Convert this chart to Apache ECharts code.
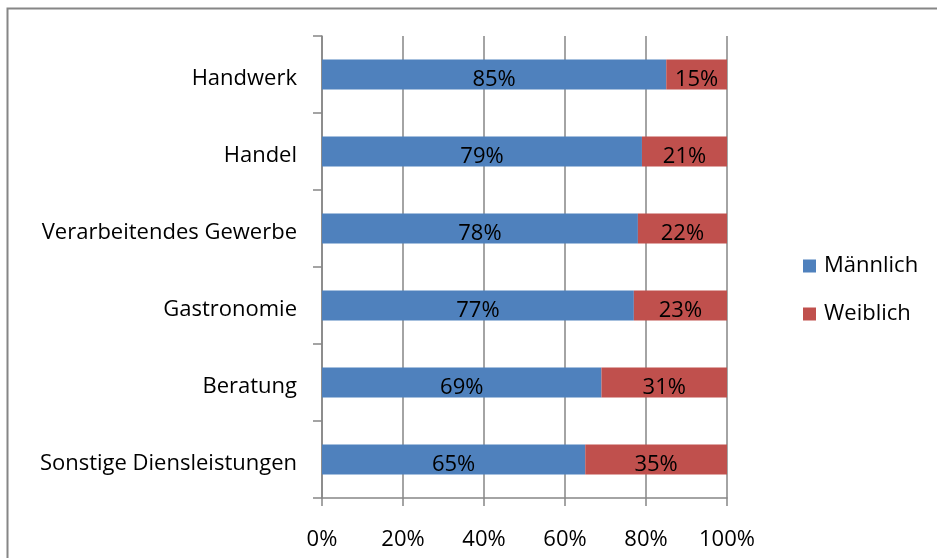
<!DOCTYPE html>
<html>
<head>
<meta charset="utf-8">
<script src="https://cdn.jsdelivr.net/npm/echarts@6/dist/echarts.min.js"></script>
<style>
  html, body { margin: 0; padding: 0; background: #fff; }
  #chart { width: 937px; height: 558px; }
</style>
</head>
<body>
<div id="chart"></div>
<script>
// Data (top to bottom in the picture; axis is reversed below)
const categories = ['Handwerk', 'Handel', 'Verarbeitendes Gewerbe', 'Gastronomie', 'Beratung', 'Sonstige Diensleistungen']
const maleValues = [85, 79, 78, 77, 69, 65]
const femaleValues = [15, 21, 22, 23, 31, 35]
const xTicks = [0, 20, 40, 60, 80, 100]

const FONT = '"Open Sans", "Noto Sans", sans-serif'
const FONT_SIZE = 22
const GRID_GRAY = '#868686'

const chart = echarts.init(document.getElementById('chart'))

const labelStyle = {
  show: true,
  position: 'inside',
  offset: [0, 5],
  color: '#000',
  fontFamily: FONT,
  fontSize: FONT_SIZE,
  formatter: '{c}%'
}

chart.setOption({
  backgroundColor: '#fff',
  animation: false,
  textStyle: { fontFamily: FONT },
  graphic: [{
    type: 'rect',
    shape: { x: 7.5, y: 8.5, width: 960, height: 600 },
    style: { fill: 'none', stroke: GRID_GRAY, lineWidth: 2 },
    silent: true
  }],
  grid: {
    left: 322,
    right: 210,
    top: 36,
    bottom: 60,
    outerBoundsMode: 'none'
  },
  legend: {
    orient: 'vertical',
    left: 798,
    top: 250,
    itemWidth: 13,
    itemHeight: 13,
    itemGap: 26,
    icon: 'rect',
    textStyle: { fontFamily: FONT, fontSize: FONT_SIZE, color: '#000', padding: [0, 0, 0, 3] },
    data: ['Männlich', 'Weiblich']
  },
  xAxis: {
    type: 'value',
    min: xTicks[0],
    max: xTicks[xTicks.length - 1],
    interval: 20,
    axisLine: { show: true, lineStyle: { color: GRID_GRAY, width: 1.5 } },
    axisTick: { show: true, length: 8, lineStyle: { color: GRID_GRAY, width: 1.5 } },
    axisLabel: {
      color: '#000',
      fontFamily: FONT,
      fontSize: FONT_SIZE,
      margin: 31,
      formatter: '{value}%'
    },
    splitLine: { show: true, lineStyle: { color: GRID_GRAY, width: 1.5 } }
  },
  yAxis: {
    type: 'category',
    inverse: true,
    data: categories,
    axisLine: { show: true, lineStyle: { color: GRID_GRAY, width: 1.5 } },
    axisTick: { show: true, length: 9, lineStyle: { color: GRID_GRAY, width: 1.5 } },
    axisLabel: {
      margin: 25,
      formatter: '{c|{value}}',
      rich: {
        c: {
          color: '#000',
          fontFamily: FONT,
          fontSize: FONT_SIZE,
          padding: [8, 0, 0, 0]
        }
      }
    }
  },
  series: [
    {
      name: 'Männlich',
      type: 'bar',
      stack: 'total',
      barWidth: 30,
      itemStyle: { color: '#4F81BD' },
      label: labelStyle,
      data: maleValues
    },
    {
      name: 'Weiblich',
      type: 'bar',
      stack: 'total',
      barWidth: 30,
      itemStyle: { color: '#C0504D' },
      label: labelStyle,
      data: femaleValues
    }
  ]
})

window.addEventListener('resize', () => chart.resize())
</script>
</body>
</html>
